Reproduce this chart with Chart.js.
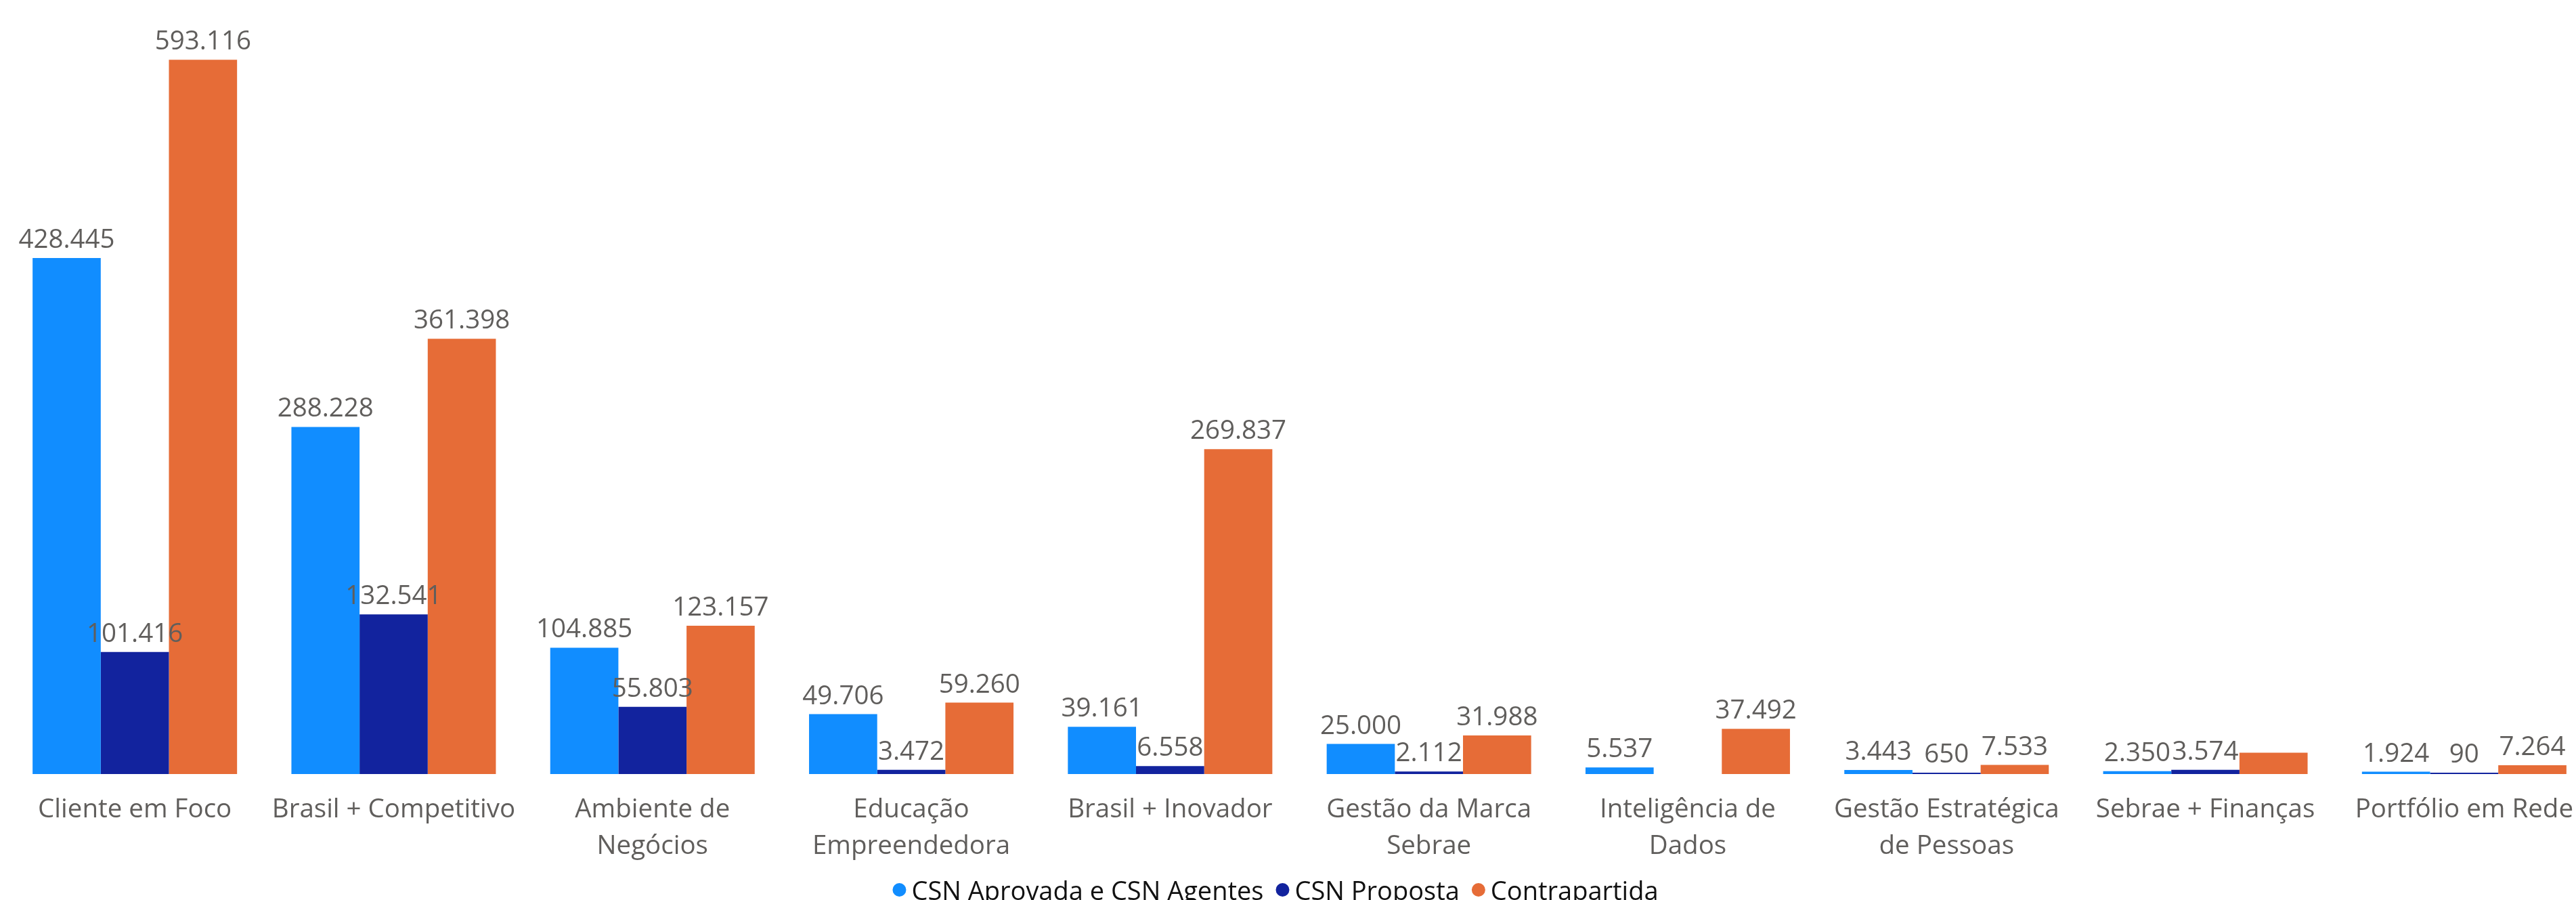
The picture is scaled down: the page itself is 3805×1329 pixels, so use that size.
<!DOCTYPE html>
<html>
<head>
<meta charset="utf-8">
<script src="https://cdn.jsdelivr.net/npm/chart.js@4.4.1/dist/chart.umd.min.js"></script>
<style>
html,body{margin:0;padding:0;background:#fff;width:3805px;height:1329px;overflow:hidden}
canvas{display:block}
</style>
</head>
<body>
<canvas id="c" width="3840" height="1329" style="width:3840px;height:1329px"></canvas>
<script>
const categories = [
  "Cliente em Foco",
  "Brasil + Competitivo",
  ["Ambiente de", "Negócios"],
  ["Educação", "Empreendedora"],
  "Brasil + Inovador",
  ["Gestão da Marca", "Sebrae"],
  ["Inteligência de", "Dados"],
  ["Gestão Estratégica", "de Pessoas"],
  "Sebrae + Finanças",
  "Portfólio em Rede"
];
const seriesNames = ["CSN Aprovada e CSN Agentes", "CSN Proposta", "Contrapartida"];
const csnAprovada   = [428445, 288228, 104885, 49706, 39161, 25000, 5537, 3443, 2350, 1924];
const csnProposta   = [101416, 132541, 55803, 3472, 6558, 2112, null, 650, 3574, 90];
const contrapartida = [593116, 361398, 123157, 59260, 269837, 31988, 37492, 7533, 17700, 7264];
const yMax = 600000;

const colors = ["#118DFF", "#12239E", "#E66C37"];
const FONT = '"Open Sans", "Noto Sans", sans-serif';

function fmt(v) {
  return String(Math.round(v)).replace(/\B(?=(\d{3})+(?!\d))/g, ".");
}

const valueLabels = {
  id: "valueLabels",
  afterDatasetsDraw(chart) {
    const ctx = chart.ctx;
    ctx.save();
    ctx.font = "38.5px " + FONT;
    ctx.fillStyle = "#605E5C";
    ctx.textAlign = "center";
    ctx.textBaseline = "alphabetic";
    const boxes = [];
    chart.data.datasets.forEach((ds, di) => {
      const meta = chart.getDatasetMeta(di);
      ds.data.forEach((v, i) => {
        if (v == null) return;
        const el = meta.data[i];
        const t = fmt(v);
        const w = ctx.measureText(t).width;
        const y = el.y - 15;
        const box = { l: el.x - w / 2, r: el.x + w / 2, t: y - 29, b: y + 8 };
        const hit = boxes.some(b => box.l < b.r && box.r > b.l && box.t < b.b && box.b > b.t);
        if (hit) return;
        boxes.push(box);
        ctx.fillText(t, el.x, y);
      });
    });
    ctx.restore();
  }
};

const customLegend = {
  id: "customLegend",
  afterDraw(chart) {
    const ctx = chart.ctx;
    ctx.save();
    ctx.font = "38px " + FONT;
    ctx.textBaseline = "alphabetic";
    ctx.textAlign = "left";
    const r = 10, gapText = 8, gapItem = 18;
    const items = chart.data.datasets.map(ds => ({ text: ds.label, color: ds.backgroundColor, w: ctx.measureText(ds.label).width }));
    let total = 0;
    items.forEach((it, k) => { total += 2 * r + gapText + it.w + (k < items.length - 1 ? gapItem : 0); });
    let x = 1884 - total / 2;
    const cy = 1314, by = 1329;
    items.forEach(it => {
      ctx.fillStyle = it.color;
      ctx.beginPath();
      ctx.arc(x + r, cy, r, 0, Math.PI * 2);
      ctx.fill();
      x += 2 * r + gapText;
      ctx.fillStyle = "#111111";
      ctx.fillText(it.text, x, by);
      x += it.w + gapItem;
    });
    ctx.restore();
  }
};

const datasets = [csnAprovada, csnProposta, contrapartida].map((d, k) => ({
  label: seriesNames[k],
  data: d,
  backgroundColor: colors[k],
  borderWidth: 0,
  minBarLength: 2,
  barPercentage: 1,
  categoryPercentage: 0.79
}));

new Chart(document.getElementById("c"), {
  type: "bar",
  data: { labels: categories, datasets },
  options: {
    responsive: false,
    devicePixelRatio: 1,
    animation: false,
    layout: { padding: { top: 76, left: 8, right: 9, bottom: 0 } },
    plugins: { legend: { display: false }, tooltip: { enabled: false } },
    scales: {
      x: {
        grid: { display: false, drawTicks: false },
        border: { display: false },
        ticks: {
          font: { family: FONT, size: 38.5, lineHeight: 1.4 },
          color: "#605E5C",
          padding: 26,
          maxRotation: 0,
          minRotation: 0,
          autoSkip: false
        },
        afterFit(scale) { scale.height = 186; }
      },
      y: { display: false, min: 0, max: yMax }
    }
  },
  plugins: [valueLabels, customLegend]
});
</script>
</body>
</html>
